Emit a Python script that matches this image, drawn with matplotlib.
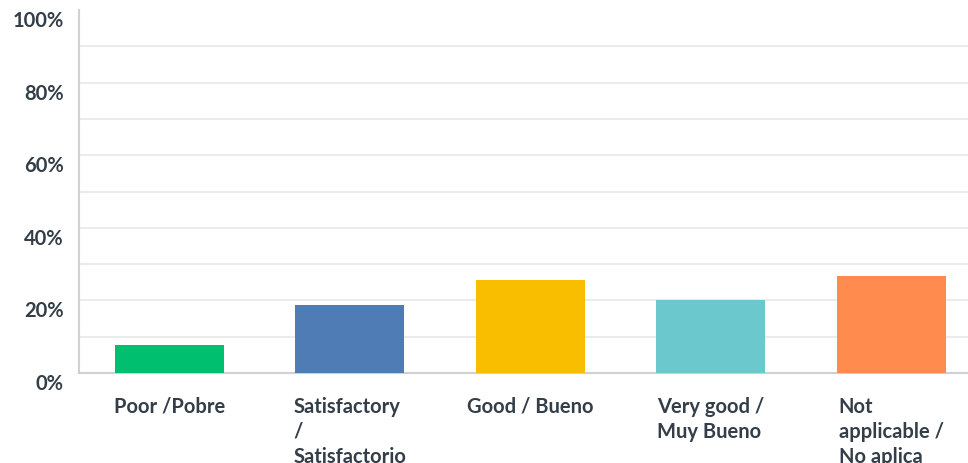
import matplotlib
matplotlib.use("Agg")
import matplotlib.pyplot as plt
import matplotlib.transforms as mtransforms

categories = ["Poor /Pobre", "Satisfactory\n/\nSatisfactorio", "Good / Bueno",
              "Very good /\nMuy Bueno", "Not\napplicable /\nNo aplica"]
values = [7.7, 18.8, 25.6, 20.1, 26.8]
colors = ["#00bf6f", "#507cb6", "#f9be00", "#6bc8cd", "#ff8b4f"]
ytick_vals = [0, 20, 40, 60, 80, 100]
ytick_labels = ["0%", "20%", "40%", "60%", "80%", "100%"]

W, H = 968, 463
fig = plt.figure(figsize=(W / 100, H / 100), dpi=100)
ax = fig.add_axes([79 / W, (H - 373) / H, 902.5 / W, 363 / H])

text_color = "#333e48"
font = ["Lato", "DejaVu Sans"]

x = list(range(len(categories)))
ax.bar(x, values, width=0.604, color=colors, zorder=3)
ax.set_xlim(-0.5, 4.5)
ax.set_ylim(0, 100)

ax.set_yticks(ytick_vals)
ax.set_yticklabels(ytick_labels, fontsize=14.5, fontweight="bold", color=text_color, family=font)
ax.set_yticks(list(range(10, 100, 20)), minor=True)
ax.tick_params(axis="y", which="both", length=0, pad=11)
offset = mtransforms.ScaledTranslation(0, -9 / 100, fig.dpi_scale_trans)
for lab in ax.get_yticklabels():
    lab.set_transform(lab.get_transform() + offset)

ax.yaxis.grid(True, which="both", color="#ebebeb", linewidth=1.5, zorder=0)
ax.set_axisbelow(True)
ax.get_ygridlines()[-1].set_visible(False)

ax.set_xticks(x)
ax.set_xticklabels(categories, fontsize=14.5, fontweight="bold", color=text_color,
                   family=font, multialignment="left", linespacing=1.32)
ax.tick_params(axis="x", length=0, pad=17)

for s in ["top", "right"]:
    ax.spines[s].set_visible(False)
ax.spines["left"].set_color("#d0d0d0")
ax.spines["left"].set_linewidth(1.5)
ax.spines["bottom"].set_color("#d0d0d0")
ax.spines["bottom"].set_linewidth(1.5)

fig.savefig("out.png", dpi=100)
